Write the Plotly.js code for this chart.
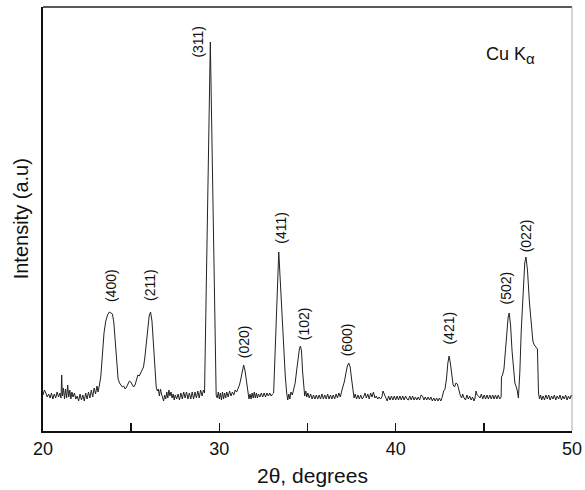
<!DOCTYPE html>
<html>
<head>
<meta charset="utf-8">
<script src="https://cdn.plot.ly/plotly-3.0.1.min.js"></script>
<style>html,body{margin:0;padding:0;background:#fff}#chart{width:585px;height:490px}</style>
</head>
<body>
<div id="chart"></div>
<script>
const twoTheta = [
20.00,20.08,20.16,20.24,20.32,20.40,20.48,20.56,20.64,20.72,20.80,20.88,20.96,21.02,21.06,21.10,21.16,21.22,21.28,21.34,
21.40,21.46,21.52,21.58,21.64,21.70,21.78,21.86,21.94,22.02,22.10,22.18,22.26,22.34,22.42,22.50,22.58,22.66,22.74,22.82,
22.90,22.98,23.06,23.12,23.20,23.28,23.36,23.46,23.56,23.66,23.76,23.86,23.94,24.02,24.10,24.18,24.26,24.34,24.42,24.50,
24.58,24.66,24.74,24.82,24.90,24.98,25.06,25.14,25.22,25.30,25.38,25.46,25.54,25.62,25.70,25.78,25.86,25.94,26.02,26.10,
26.18,26.26,26.34,26.42,26.48,26.54,26.60,26.66,26.72,26.78,26.84,26.90,26.96,27.02,27.08,27.14,27.20,27.26,27.32,27.38,
27.44,27.50,27.58,27.66,27.74,27.82,27.90,27.98,28.06,28.14,28.22,28.30,28.38,28.46,28.54,28.62,28.70,28.78,28.86,28.94,
29.02,29.10,29.16,29.49,29.82,29.88,29.94,30.00,30.06,30.12,30.18,30.24,30.30,30.36,30.42,30.50,30.58,30.66,30.74,30.82,
30.90,30.98,31.06,31.14,31.22,31.30,31.38,31.46,31.54,31.62,31.68,31.74,31.80,31.86,31.92,31.98,32.04,32.10,32.16,32.22,
32.30,32.38,32.46,32.54,32.62,32.70,32.78,32.86,32.94,33.02,33.08,33.37,33.50,33.62,33.74,33.82,33.88,33.94,34.00,34.06,
34.14,34.22,34.30,34.38,34.46,34.54,34.60,34.66,34.72,34.78,34.84,34.90,34.96,35.02,35.10,35.18,35.26,35.34,35.42,35.50,
35.58,35.66,35.74,35.82,35.90,35.98,36.06,36.14,36.22,36.30,36.38,36.46,36.54,36.62,36.70,36.78,36.86,36.94,37.02,37.10,
37.18,37.26,37.34,37.42,37.50,37.58,37.64,37.70,37.78,37.86,37.94,38.02,38.10,38.18,38.26,38.34,38.42,38.50,38.58,38.66,
38.74,38.82,38.90,38.98,39.06,39.14,39.22,39.28,39.36,39.44,39.52,39.60,39.68,39.76,39.84,39.92,40.00,40.08,40.16,40.24,
40.32,40.40,40.48,40.56,40.64,40.72,40.80,40.88,40.96,41.04,41.12,41.20,41.28,41.36,41.44,41.52,41.60,41.68,41.76,41.84,
41.92,42.00,42.08,42.16,42.24,42.32,42.40,42.48,42.56,42.64,42.72,42.80,42.88,42.96,43.03,43.10,43.18,43.26,43.34,43.42,
43.50,43.58,43.66,43.74,43.80,43.88,43.96,44.04,44.12,44.20,44.28,44.36,44.44,44.50,44.56,44.62,44.70,44.78,44.86,44.94,
45.02,45.10,45.18,45.26,45.34,45.42,45.50,45.58,45.66,45.74,45.82,45.90,45.98,46.00,46.06,46.14,46.22,46.30,46.38,46.44,
46.52,46.60,46.68,46.76,46.84,46.90,46.96,47.04,47.12,47.22,47.32,47.39,47.48,47.58,47.68,47.78,47.86,47.96,48.04,48.10,
48.16,48.22,48.28,48.36,48.44,48.52,48.60,48.68,48.76,48.84,48.92,49.00,49.08,49.16,49.24,49.32,49.40,49.48,49.56,49.64,
49.72,49.80,49.88,49.96,50.00
];
const intensity = [
36,41,38,34,37,33,38,32,37,33,39,34,38,33,56,35,43,32,42,33,
46,34,41,32,39,34,38,32,35,30,37,31,36,30,38,32,39,33,41,34,
43,37,45,39,46,55,74,98,110,116,119,118,117,108,90,70,52,48,46,44,
45,42,44,48,50,49,47,44,46,50,56,55,58,60,64,74,90,105,115,119,
110,88,62,44,40,42,35,42,37,33,30,36,32,39,33,41,35,39,33,37,
31,36,32,37,31,38,32,39,33,39,32,38,32,39,32,39,33,40,33,41,
35,41,38,389,36,33,39,32,38,31,39,32,38,33,39,34,40,35,39,36,
41,39,42,46,52,60,66,60,48,38,32,37,32,38,33,39,33,38,33,37,
34,38,34,38,34,38,35,38,35,37,38,179,130,90,55,38,31,37,32,39,
36,42,48,60,72,82,85,80,60,42,35,40,34,38,33,37,32,36,32,36,
32,36,32,37,32,36,32,37,32,36,32,36,32,37,33,38,34,40,44,50,
58,65,68,64,52,40,33,37,32,36,32,36,32,34,38,33,37,32,38,34,
39,33,35,32,34,32,34,40,36,33,30,35,31,35,31,35,31,35,31,35,
31,35,31,35,32,31,35,31,35,31,34,31,34,31,36,35,31,34,31,34,
31,34,30,33,30,33,30,33,30,34,40,42,52,68,75,68,56,46,44,48,
47,40,36,33,37,33,31,36,32,35,31,34,30,33,40,36,35,33,37,32,
36,32,36,32,36,32,36,32,36,32,36,32,34,54,56,62,80,100,114,118,
105,80,60,48,44,40,33,58,100,140,168,174,160,130,108,90,86,84,82,38,
32,36,31,35,31,36,32,36,31,35,32,36,31,35,32,36,31,35,32,36,
31,35,32,36,34
];
// peak labels (Miller indices) and their positions
const peakLabels = ["(400)","(211)","(311)","(020)","(411)","(102)","(600)","(421)","(502)","(022)"];
const labelX = [23.90, 26.07, 28.74, 31.41, 33.45, 34.81, 37.24, 43.00, 46.28, 47.41];
const labelY = [145.7, 146, 389.5, 89, 203.5, 107, 90.7, 103, 143, 195];
const xTicks = [20, 30, 40, 50];

const font = "Liberation Sans, Arial, sans-serif";
const annotations = peakLabels.map((t, i) => ({
  x: labelX[i], y: labelY[i], xref: "x", yref: "y", text: t, showarrow: false,
  textangle: -90, font: {family: font, size: 14, color: "#111"},
  xanchor: "center", yanchor: "middle"
}));
annotations.push({
  x: 0.834, y: 0.885, xref: "paper", yref: "paper", xanchor: "left", yanchor: "middle",
  text: "Cu K<sub><span style=\"font-size:15px\">α</span></sub>", showarrow: false, font: {family: font, size: 18, color: "#111"}
});
annotations.push({
  x: 0.51, y: -0.106, xref: "paper", yref: "paper", xanchor: "center", yanchor: "middle",
  text: "2θ, degrees", showarrow: false, font: {family: font, size: 21, color: "#111"}
});
annotations.push({
  x: -0.041, y: 0.50, xref: "paper", yref: "paper", xanchor: "center", yanchor: "middle",
  text: "Intensity (a.u)", textangle: -90, showarrow: false, font: {family: font, size: 20, color: "#111"}
});

const trace = {
  x: twoTheta, y: intensity, type: "scatter", mode: "lines",
  line: {color: "#222", width: 1}, hoverinfo: "skip"
};

const layout = {
  width: 585, height: 490,
  margin: {l: 43, r: 13, t: 7, b: 59},
  paper_bgcolor: "#fff", plot_bgcolor: "rgba(0,0,0,0)",
  showlegend: false,
  font: {family: font, color: "#111"},
  xaxis: {
    range: [20, 50], tickvals: xTicks, ticktext: xTicks.map(String),
    ticks: "inside", ticklen: 8, tickwidth: 1.5, tickcolor: "#111",
    minor: {tickvals: [25, 35, 45], ticks: "inside", ticklen: 8, tickwidth: 1.5, tickcolor: "#111"},
    showline: true, linewidth: 2, linecolor: "#111", mirror: false,
    showgrid: false, zeroline: false,
    tickfont: {family: font, size: 18, color: "#111"}
  },
  yaxis: {
    range: [0, 424], showticklabels: false, ticks: "",
    showline: true, linewidth: 2, linecolor: "#111", mirror: false,
    showgrid: false, zeroline: false
  },
  shapes: [
    {type: "line", xref: "paper", yref: "paper", x0: 0, x1: 1, y0: 1, y1: 1, line: {color: "#222", width: 1.5}},
    {type: "line", xref: "paper", yref: "paper", x0: 1, x1: 1, y0: 0, y1: 1, line: {color: "#aaa", width: 1}}
  ],
  annotations: annotations
};

Plotly.newPlot("chart", [trace], layout, {staticPlot: true, displayModeBar: false});
</script>
</body>
</html>
